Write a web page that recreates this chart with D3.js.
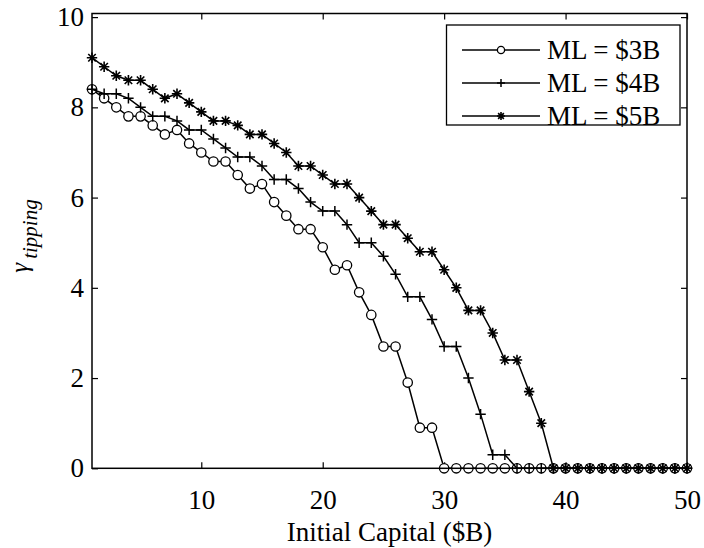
<!DOCTYPE html>
<html>
<head>
<meta charset="utf-8">
<script src="https://cdn.jsdelivr.net/npm/d3@7"></script>
<style>
  html, body { margin: 0; padding: 0; background: #fff; }
  svg { display: block; }
  text { font-family: "Liberation Serif", "Times New Roman", serif; fill: #000; }
</style>
</head>
<body>
<svg id="chart" width="704" height="548"></svg>
<script>
// ---- data ----
const capital = [1,2,3,4,5,6,7,8,9,10,11,12,13,14,15,16,17,18,19,20,21,22,23,24,25,
                 26,27,28,29,30,31,32,33,34,35,36,37,38,39,40,41,42,43,44,45,46,47,48,49,50];
const ml3 = [8.4,8.2,8.0,7.8,7.8,7.6,7.4,7.5,7.2,7.0,6.8,6.8,6.5,6.2,6.3,5.9,5.6,5.3,5.3,4.9,
             4.4,4.5,3.9,3.4,2.7,2.7,1.9,0.9,0.9,0,0,0,0,0,0,0,0,0,0,0,0,0,0,0,0,0,0,0,0,0];
const ml4 = [8.4,8.3,8.3,8.2,8.0,7.8,7.8,7.7,7.5,7.5,7.3,7.1,6.9,6.9,6.7,6.4,6.4,6.2,5.9,5.7,
             5.7,5.4,5.0,5.0,4.7,4.3,3.8,3.8,3.3,2.7,2.7,2.0,1.2,0.3,0.3,0,0,0,0,0,0,0,0,0,0,0,0,0,0,0];
const ml5 = [9.1,8.9,8.7,8.6,8.6,8.4,8.2,8.3,8.1,7.9,7.7,7.7,7.6,7.4,7.4,7.2,7.0,6.7,6.7,6.5,
             6.3,6.3,6.0,5.7,5.4,5.4,5.1,4.8,4.8,4.4,4.0,3.5,3.5,3.0,2.4,2.4,1.7,1.0,0,0,0,0,0,0,0,0,0,0,0,0];
const seriesNames = ["ML = $3B", "ML = $4B", "ML = $5B"];
const markerTypes = ["circle", "plus", "star"];
const xTicks = [10,20,30,40,50];
const yTicks = [0,2,4,6,8,10];
const xLabel = "Initial Capital ($B)";

// ---- layout ----
const L = 92, R = 687, T = 13.5, B = 468.3;
const svg = d3.select("#chart");
const x = d3.scaleLinear().domain([1, 50]).range([L, R]);
const y = d3.scaleLinear().domain([0, 10.08]).range([B, T]);
const FS = 27;

function drawMarker(g, type, cx, cy, s) {
  if (type === "circle") {
    g.append("circle").attr("cx", cx).attr("cy", cy).attr("r", s * 0.9)
      .attr("fill", "#fff").attr("stroke", "#000").attr("stroke-width", 1.3);
  } else if (type === "plus") {
    g.append("path").attr("d", `M${cx - s},${cy}H${cx + s}M${cx},${cy - s}V${cy + s}`)
      .attr("stroke", "#000").attr("stroke-width", 1.5).attr("fill", "none");
  } else {
    const d = s * 0.72;
    g.append("path").attr("d",
      `M${cx - s},${cy}H${cx + s}M${cx},${cy - s}V${cy + s}` +
      `M${cx - d},${cy - d}L${cx + d},${cy + d}M${cx - d},${cy + d}L${cx + d},${cy - d}`)
      .attr("stroke", "#000").attr("stroke-width", 1.6).attr("fill", "none");
  }
}

// axes (ticks inward on all sides)
const gx = svg.append("g").attr("transform", `translate(0,${B})`)
  .call(d3.axisBottom(x).tickValues(xTicks).tickSize(-6).tickSizeOuter(0).tickPadding(22));
const gxt = svg.append("g").attr("transform", `translate(0,${T})`)
  .call(d3.axisTop(x).tickValues(xTicks).tickSize(-6).tickSizeOuter(0).tickFormat(""));
const gy = svg.append("g").attr("transform", `translate(${L},0)`)
  .call(d3.axisLeft(y).tickValues(yTicks).tickSize(-6).tickSizeOuter(0).tickPadding(8));
const gyr = svg.append("g").attr("transform", `translate(${R},0)`)
  .call(d3.axisRight(y).tickValues(yTicks).tickSize(-6).tickSizeOuter(0).tickFormat(""));
[gx, gxt, gy, gyr].forEach(g => {
  g.select(".domain").remove();
  g.selectAll("line").attr("stroke", "#000").attr("stroke-width", 1.2);
  g.selectAll("text").attr("font-size", FS).attr("font-family", "Liberation Serif, serif").attr("fill", "#000");
});

// data lines
const allSeries = [ml3, ml4, ml5];
const line = d3.line().x((d, i) => x(capital[i])).y(d => y(d));
allSeries.forEach((vals, si) => {
  const g = svg.append("g");
  g.append("path").datum(vals).attr("d", line)
    .attr("fill", "none").attr("stroke", "#000").attr("stroke-width", 1.5);
  vals.forEach((v, i) => drawMarker(g, markerTypes[si], x(capital[i]), y(v), 5.2));
});

// plot box
svg.append("rect").attr("x", L).attr("y", T).attr("width", R - L).attr("height", B - T)
  .attr("fill", "none").attr("stroke", "#000").attr("stroke-width", 1.5);

// x label
svg.append("text").attr("x", (L + R) / 2).attr("y", 541).attr("text-anchor", "middle")
  .attr("font-size", FS).text(xLabel);

// y label
const yl = svg.append("text").attr("transform", "translate(28,236) rotate(-90)")
  .attr("text-anchor", "middle").attr("font-style", "italic");
yl.append("tspan").attr("font-size", 25).text("γ");
yl.append("tspan").attr("font-size", 21).attr("dx", 4).attr("dy", 9).text("tipping");

// legend
const lg = svg.append("g");
lg.append("rect").attr("x", 446.5).attr("y", 25).attr("width", 233.5).attr("height", 100)
  .attr("fill", "#fff").attr("stroke", "#000").attr("stroke-width", 1.3);
seriesNames.forEach((name, i) => {
  const cy = 50 + i * 33;
  lg.append("line").attr("x1", 462).attr("x2", 540).attr("y1", cy).attr("y2", cy)
    .attr("stroke", "#000").attr("stroke-width", 1.5);
  drawMarker(lg, markerTypes[i], 501, cy, 4);
  lg.append("text").attr("x", 547).attr("y", cy + 9).attr("font-size", FS).text(name);
});
</script>
</body>
</html>
